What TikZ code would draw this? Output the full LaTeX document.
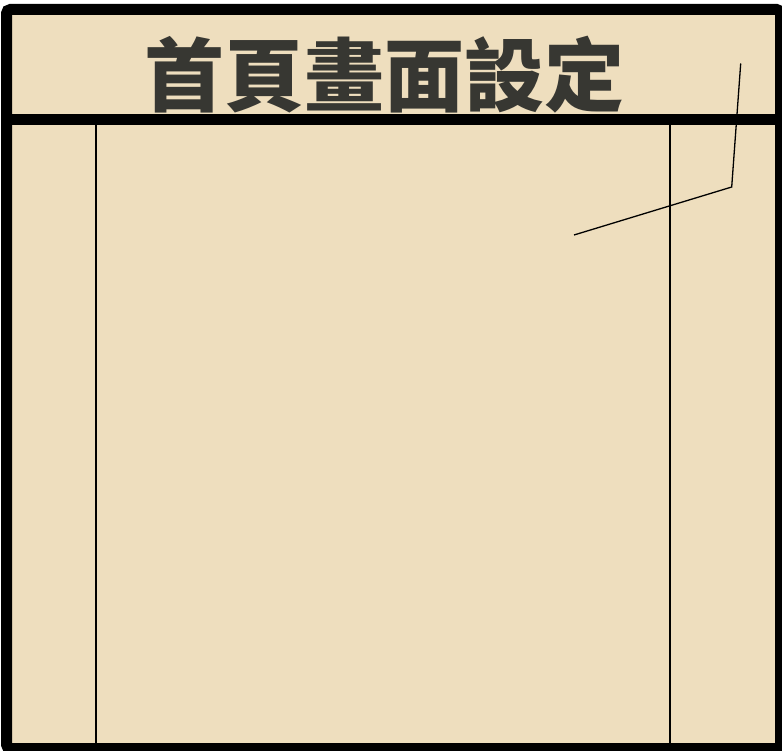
\documentclass[tikz,border=0pt]{standalone}
\usepackage{fontspec}
\newfontfamily\cjk{Noto Sans CJK TC}
\definecolor{parch}{RGB}{238,222,190}
\definecolor{titlegray}{RGB}{55,55,50}
\tikzset{
  frame/.style={line width=11pt, draw=black},
  thinrule/.style={line width=2pt, draw=black},
  pointer/.style={line width=1.3pt, draw=black},
  titletext/.style={font=\cjk\bfseries\fontsize{80pt}{80pt}\selectfont, text=titlegray, inner sep=0pt}
}
\begin{document}
\begin{tikzpicture}[x=1pt,y=-1pt]
\useasboundingbox (0,0) rectangle (782,751);
\fill[white] (0,0) rectangle (782,751);
\begin{scope}
\clip (0,0) rectangle (782,751);
\fill[parch] (6.5,9.5) rectangle (780.5,748.5);
% horizontal header rule
\draw[frame] (1,119.5) -- (782,119.5);
% vertical thin rules
\draw[thinrule] (96,125) -- (96,743);
\draw[thinrule] (670,125) -- (670,743);
% outer frame
\draw[frame, rounded corners=4pt] (6.5,9.5) rectangle (780.5,748.5);
\end{scope}
% title
\node[titletext] (title) at (384,75) {首頁畫面設定};
% pointer polyline
\coordinate (p1) at (740.7,63.5);
\coordinate (p2) at (731.7,187);
\coordinate (p3) at (574,235);
\draw[pointer] (p1) -- (p2) -- (p3);
\end{tikzpicture}
\end{document}
